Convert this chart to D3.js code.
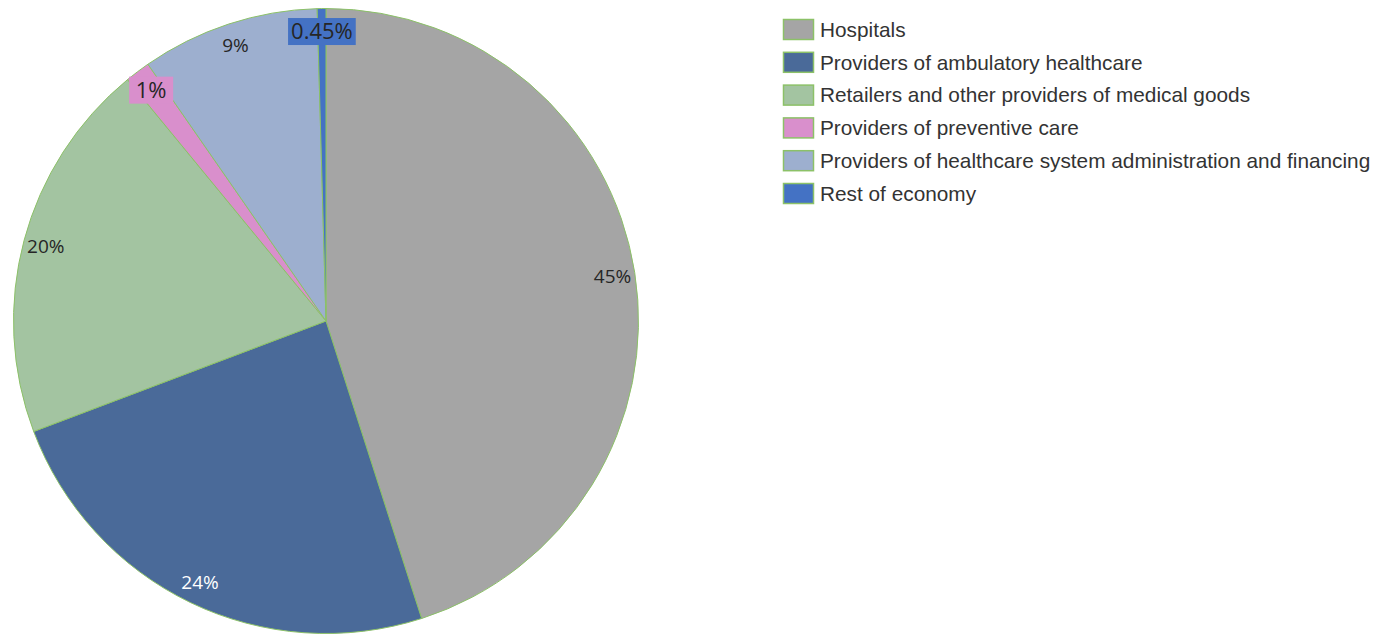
<!DOCTYPE html>
<html>
<head>
<meta charset="utf-8">
<script src="https://cdn.jsdelivr.net/npm/d3@7"></script>
<style>
  html, body { margin: 0; padding: 0; background: #fff; }
  svg { display: block; }
</style>
</head>
<body>
<svg id="chart" width="1390" height="634"></svg>
<script>
'use strict';
const CATEGORIES = [
  'Hospitals',
  'Providers of ambulatory healthcare',
  'Retailers and other providers of medical goods',
  'Providers of preventive care',
  'Providers of healthcare system administration and financing',
  'Rest of economy',
];
const VALUES = [45.05, 24.2, 19.8, 1.3, 9.2, 0.45];
const LABELS = ['45%', '24%', '20%', '1%', '9%', '0.45%'];
const COLORS = ['#a5a5a5', '#4a6a99', '#a3c4a1', '#d98fcc', '#9dafcf', '#4472c4'];
const LABEL_COLORS = ['#262626', '#ffffff', '#262626', '#262626', '#262626', '#262626'];
const BOXED = [false, false, false, true, false, true];
const STROKE = '#8cc168';

const data = CATEGORIES.map((name, i) => ({
  name,
  value: VALUES[i],
  label: LABELS[i],
  color: COLORS[i],
  labelColor: LABEL_COLORS[i],
  boxed: BOXED[i],
}));

drawChart(data);

function drawChart(data) {
  const svg = d3.select('#chart');
  const cx = 326, cy = 321, radius = 312.5;

  const pie = d3.pie().sort(null).value((d) => d.value);
  const arcs = pie(data);

  const arc = d3.arc().innerRadius(0).outerRadius(radius);
  const labelArc = d3.arc().innerRadius(290).outerRadius(290);

  const g = svg.append('g').attr('transform', `translate(${cx},${cy})`);

  g.selectAll('path')
    .data(arcs)
    .enter()
    .append('path')
    .attr('d', arc)
    .attr('fill', (d) => d.data.color)
    .attr('stroke', STROKE)
    .attr('stroke-width', 1)
    .attr('stroke-linejoin', 'round');

  // data labels
  const labels = g.selectAll('g.label')
    .data(arcs)
    .enter()
    .append('g')
    .attr('class', 'label')
    .attr('transform', (d) => `translate(${labelArc.centroid(d)})`);

  labels.append('text')
    .attr('text-anchor', 'middle')
    .attr('dy', '0.36em')
    .attr('font-family', "'Open Sans', 'Noto Sans', sans-serif")
    .attr('font-size', (d) => (d.data.boxed ? 22 : 19))
    .attr('fill', (d) => d.data.labelColor)
    .text((d) => d.data.label);

  // small slices get a filled box behind the label
  labels.filter((d) => d.data.boxed).each(function (d) {
    const grp = d3.select(this);
    const bb = grp.select('text').node().getBBox();
    const w = Math.max(bb.width + 6, 44);
    grp.insert('rect', 'text')
      .attr('x', -w / 2)
      .attr('y', -13)
      .attr('width', w)
      .attr('height', 27)
      .attr('fill', d.data.color);
  });

  // legend
  const legend = svg.append('g').attr('transform', 'translate(783,19)');
  const rows = legend.selectAll('g')
    .data(data)
    .enter()
    .append('g')
    .attr('transform', (d, i) => `translate(0,${i * 32.8})`);

  rows.append('rect')
    .attr('x', 0.5)
    .attr('y', 0.5)
    .attr('width', 30)
    .attr('height', 20)
    .attr('fill', (d) => d.color)
    .attr('stroke', STROKE)
    .attr('stroke-width', 1.5);

  rows.append('text')
    .attr('x', 37)
    .attr('y', 10.5)
    .attr('dy', '0.35em')
    .attr('font-family', "'Liberation Sans', Arial, sans-serif")
    .attr('font-size', 20.8)
    .attr('fill', '#333333')
    .text((d) => d.name);
}
</script>
</body>
</html>
